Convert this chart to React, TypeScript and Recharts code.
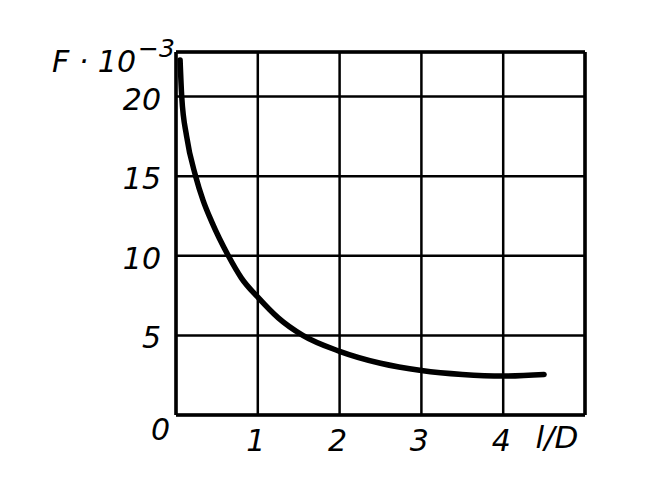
import { LineChart, Line, XAxis, YAxis, CartesianGrid, ReferenceLine, Label } from 'recharts'

const lOverD = [0.05, 0.07, 0.13, 0.24, 0.33, 0.44, 0.64, 0.8, 1.0, 1.25, 1.55, 2.0, 2.5, 3.0, 3.5, 4.0, 4.5]
const force = [22.3, 20, 17.5, 15, 13.5, 12.1, 10, 8.6, 7.4, 6.1, 5, 4.0, 3.25, 2.8, 2.55, 2.45, 2.55]

const xTicks = [0, 1, 2, 3, 4]
const yTicks = [0, 5, 10, 15, 20]
const xMax = 5
const yMax = 22.8

const data = lOverD.map((x, i) => ({ x, f: force[i] }))

const font = "'DejaVu Sans', sans-serif"

function XTick(props: any) {
  const { x, y, payload } = props
  if (payload.value === 0) return null
  return (
    <text x={x - 2} y={y + 28} textAnchor="middle" fontFamily={font} fontStyle="italic" fontSize={30} fill="#000">
      {payload.value}
    </text>
  )
}

function YTick(props: any) {
  const { x, y, payload } = props
  if (payload.value === 0) {
    return (
      <text x={x + 2} y={y + 25} textAnchor="end" fontFamily={font} fontStyle="italic" fontSize={30} fill="#000">
        0
      </text>
    )
  }
  return (
    <text x={x - 7} y={y + 13} textAnchor="end" fontFamily={font} fontStyle="italic" fontSize={30} fill="#000">
      {payload.value}
    </text>
  )
}

export default function App() {
  return (
    <div style={{ position: 'absolute', left: 0, top: 0, background: '#fff' }}>
      <LineChart width={649} height={485} data={data} margin={{ top: 52, right: 64, bottom: 30, left: 116 }}>
        <CartesianGrid stroke="#000" strokeWidth={2.5} />
        <XAxis
          dataKey="x"
          type="number"
          domain={[0, xMax]}
          ticks={xTicks}
          height={40}
          tick={<XTick />}
          tickLine={false}
          axisLine={{ stroke: '#000', strokeWidth: 3.5 }}
        >
          <Label
            content={(p: any) => (
              <text x={p.viewBox.x + p.viewBox.width - 28} y={p.viewBox.y + 33} textAnchor="middle" fontFamily={font} fontStyle="italic" fontSize={31} fill="#000">
                l/D
              </text>
            )}
          />
        </XAxis>
        <YAxis
          type="number"
          domain={[0, yMax]}
          ticks={yTicks}
          width={60}
          tick={<YTick />}
          tickLine={false}
          allowDataOverflow
          axisLine={{ stroke: '#000', strokeWidth: 3.5 }}
        >
          <Label
            content={() => (
              <text x={52} y={72} fontFamily={font} fontStyle="italic" fontSize={30} fill="#000">
                F · 10
                <tspan dx={2} dy={-15} fontSize={25}>−3</tspan>
              </text>
            )}
          />
        </YAxis>
        <ReferenceLine x={xMax} stroke="#000" strokeWidth={3.5} />
        <ReferenceLine y={yMax} stroke="#000" strokeWidth={3.5} />
        <Line
          dataKey="f"
          type="monotone"
          stroke="#000"
          strokeWidth={5.5}
          strokeLinecap="round"
          dot={false}
          isAnimationActive={false}
        />
      </LineChart>
    </div>
  )
}
